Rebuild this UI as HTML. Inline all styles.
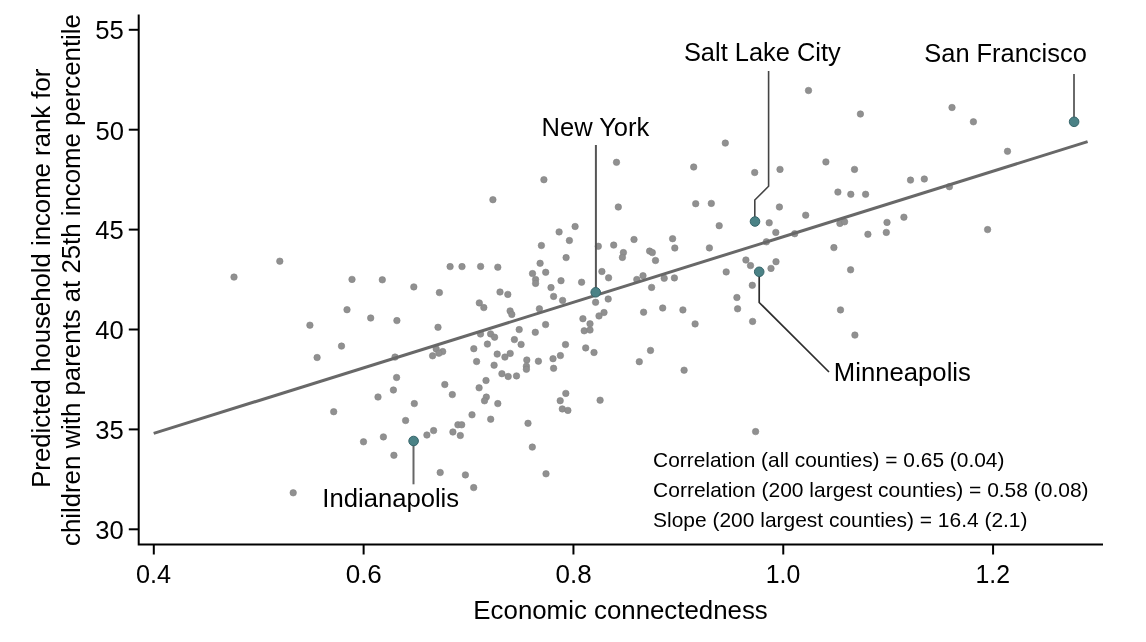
<!DOCTYPE html>
<html><head><meta charset="utf-8"><style>
html,body{margin:0;padding:0;background:#fff;width:1146px;height:642px;overflow:hidden}
svg{display:block;font-family:"Liberation Sans",sans-serif}
</style></head><body>
<svg width="1146" height="642" viewBox="0 0 1146 642">
<rect width="1146" height="642" fill="#fff"/>
<path d="M138.7 14.5 V544.5 H1103" fill="none" stroke="#000" stroke-width="2"/>
<line x1="128.8" y1="529.30" x2="138.7" y2="529.30" stroke="#000" stroke-width="2"/>
<line x1="128.8" y1="429.40" x2="138.7" y2="429.40" stroke="#000" stroke-width="2"/>
<line x1="128.8" y1="329.50" x2="138.7" y2="329.50" stroke="#000" stroke-width="2"/>
<line x1="128.8" y1="229.60" x2="138.7" y2="229.60" stroke="#000" stroke-width="2"/>
<line x1="128.8" y1="129.70" x2="138.7" y2="129.70" stroke="#000" stroke-width="2"/>
<line x1="128.8" y1="29.80" x2="138.7" y2="29.80" stroke="#000" stroke-width="2"/>
<line x1="153.80" y1="544.5" x2="153.80" y2="554.5" stroke="#000" stroke-width="2"/>
<line x1="363.62" y1="544.5" x2="363.62" y2="554.5" stroke="#000" stroke-width="2"/>
<line x1="573.44" y1="544.5" x2="573.44" y2="554.5" stroke="#000" stroke-width="2"/>
<line x1="783.26" y1="544.5" x2="783.26" y2="554.5" stroke="#000" stroke-width="2"/>
<line x1="993.08" y1="544.5" x2="993.08" y2="554.5" stroke="#000" stroke-width="2"/>
<g fill="#909090" stroke="#848484" stroke-width="0.6"><circle cx="543.9" cy="179.7" r="3.25"/><circle cx="492.9" cy="199.7" r="3.25"/><circle cx="808.5" cy="90.5" r="3.25"/><circle cx="725.3" cy="143.1" r="3.25"/><circle cx="616.5" cy="162.3" r="3.25"/><circle cx="693.7" cy="167.0" r="3.25"/><circle cx="754.7" cy="172.5" r="3.25"/><circle cx="780.0" cy="169.4" r="3.25"/><circle cx="618.3" cy="207.0" r="3.25"/><circle cx="695.7" cy="203.7" r="3.25"/><circle cx="711.3" cy="203.4" r="3.25"/><circle cx="779.4" cy="207.0" r="3.25"/><circle cx="805.7" cy="215.2" r="3.25"/><circle cx="860.4" cy="114.0" r="3.25"/><circle cx="952.0" cy="107.5" r="3.25"/><circle cx="973.4" cy="121.8" r="3.25"/><circle cx="1007.5" cy="151.3" r="3.25"/><circle cx="825.9" cy="161.9" r="3.25"/><circle cx="854.5" cy="169.4" r="3.25"/><circle cx="910.5" cy="180.1" r="3.25"/><circle cx="924.3" cy="179.0" r="3.25"/><circle cx="949.4" cy="186.7" r="3.25"/><circle cx="837.9" cy="192.1" r="3.25"/><circle cx="850.8" cy="194.3" r="3.25"/><circle cx="865.6" cy="194.3" r="3.25"/><circle cx="903.9" cy="217.2" r="3.25"/><circle cx="234.0" cy="277.1" r="3.25"/><circle cx="279.8" cy="261.2" r="3.25"/><circle cx="352.0" cy="279.4" r="3.25"/><circle cx="382.3" cy="279.8" r="3.25"/><circle cx="347.0" cy="309.7" r="3.25"/><circle cx="370.7" cy="318.0" r="3.25"/><circle cx="396.9" cy="320.6" r="3.25"/><circle cx="309.9" cy="325.2" r="3.25"/><circle cx="341.5" cy="346.1" r="3.25"/><circle cx="317.1" cy="357.5" r="3.25"/><circle cx="395.0" cy="357.1" r="3.25"/><circle cx="396.6" cy="377.5" r="3.25"/><circle cx="393.4" cy="390.0" r="3.25"/><circle cx="378.0" cy="397.0" r="3.25"/><circle cx="333.7" cy="411.7" r="3.25"/><circle cx="405.6" cy="420.5" r="3.25"/><circle cx="383.4" cy="436.9" r="3.25"/><circle cx="363.5" cy="441.8" r="3.25"/><circle cx="393.9" cy="455.3" r="3.25"/><circle cx="293.2" cy="492.8" r="3.25"/><circle cx="414.3" cy="403.6" r="3.25"/><circle cx="450.1" cy="266.6" r="3.25"/><circle cx="462.0" cy="266.6" r="3.25"/><circle cx="480.6" cy="266.4" r="3.25"/><circle cx="497.8" cy="267.2" r="3.25"/><circle cx="413.8" cy="286.9" r="3.25"/><circle cx="575.1" cy="226.5" r="3.25"/><circle cx="559.1" cy="231.9" r="3.25"/><circle cx="569.4" cy="240.5" r="3.25"/><circle cx="541.4" cy="245.5" r="3.25"/><circle cx="598.3" cy="246.3" r="3.25"/><circle cx="566.1" cy="257.6" r="3.25"/><circle cx="540.1" cy="263.3" r="3.25"/><circle cx="532.5" cy="273.6" r="3.25"/><circle cx="545.7" cy="272.3" r="3.25"/><circle cx="535.6" cy="279.6" r="3.25"/><circle cx="535.6" cy="283.4" r="3.25"/><circle cx="561.0" cy="280.7" r="3.25"/><circle cx="581.6" cy="282.2" r="3.25"/><circle cx="601.9" cy="271.5" r="3.25"/><circle cx="608.6" cy="277.8" r="3.25"/><circle cx="551.0" cy="287.6" r="3.25"/><circle cx="439.4" cy="292.6" r="3.25"/><circle cx="500.0" cy="292.0" r="3.25"/><circle cx="507.8" cy="294.4" r="3.25"/><circle cx="479.3" cy="302.9" r="3.25"/><circle cx="483.8" cy="307.6" r="3.25"/><circle cx="510.1" cy="310.9" r="3.25"/><circle cx="511.8" cy="314.4" r="3.25"/><circle cx="438.0" cy="327.3" r="3.25"/><circle cx="480.5" cy="334.0" r="3.25"/><circle cx="490.6" cy="333.9" r="3.25"/><circle cx="494.6" cy="337.2" r="3.25"/><circle cx="487.4" cy="344.1" r="3.25"/><circle cx="473.8" cy="348.7" r="3.25"/><circle cx="436.2" cy="348.9" r="3.25"/><circle cx="442.7" cy="351.6" r="3.25"/><circle cx="438.9" cy="353.2" r="3.25"/><circle cx="432.6" cy="355.8" r="3.25"/><circle cx="497.2" cy="354.1" r="3.25"/><circle cx="504.9" cy="357.1" r="3.25"/><circle cx="553.6" cy="296.4" r="3.25"/><circle cx="562.6" cy="300.4" r="3.25"/><circle cx="608.2" cy="299.0" r="3.25"/><circle cx="595.6" cy="302.3" r="3.25"/><circle cx="539.4" cy="308.8" r="3.25"/><circle cx="604.0" cy="312.5" r="3.25"/><circle cx="599.0" cy="315.9" r="3.25"/><circle cx="582.9" cy="318.7" r="3.25"/><circle cx="590.0" cy="323.8" r="3.25"/><circle cx="584.2" cy="330.8" r="3.25"/><circle cx="590.0" cy="330.0" r="3.25"/><circle cx="545.6" cy="324.6" r="3.25"/><circle cx="519.2" cy="329.6" r="3.25"/><circle cx="535.3" cy="332.3" r="3.25"/><circle cx="514.4" cy="339.6" r="3.25"/><circle cx="521.1" cy="344.4" r="3.25"/><circle cx="565.5" cy="344.6" r="3.25"/><circle cx="585.7" cy="347.9" r="3.25"/><circle cx="594.0" cy="352.5" r="3.25"/><circle cx="510.2" cy="353.4" r="3.25"/><circle cx="526.8" cy="360.0" r="3.25"/><circle cx="538.4" cy="361.2" r="3.25"/><circle cx="553.0" cy="358.7" r="3.25"/><circle cx="560.4" cy="355.6" r="3.25"/><circle cx="634.0" cy="239.5" r="3.25"/><circle cx="613.7" cy="245.1" r="3.25"/><circle cx="672.6" cy="238.7" r="3.25"/><circle cx="674.8" cy="248.0" r="3.25"/><circle cx="709.4" cy="247.9" r="3.25"/><circle cx="623.4" cy="252.6" r="3.25"/><circle cx="622.4" cy="257.4" r="3.25"/><circle cx="649.6" cy="251.1" r="3.25"/><circle cx="652.3" cy="252.6" r="3.25"/><circle cx="655.5" cy="260.5" r="3.25"/><circle cx="643.0" cy="275.7" r="3.25"/><circle cx="636.8" cy="279.5" r="3.25"/><circle cx="664.2" cy="278.3" r="3.25"/><circle cx="674.4" cy="277.9" r="3.25"/><circle cx="651.6" cy="287.4" r="3.25"/><circle cx="719.2" cy="225.7" r="3.25"/><circle cx="769.2" cy="222.8" r="3.25"/><circle cx="775.8" cy="232.4" r="3.25"/><circle cx="766.4" cy="241.8" r="3.25"/><circle cx="794.7" cy="233.7" r="3.25"/><circle cx="745.9" cy="260.0" r="3.25"/><circle cx="750.5" cy="265.6" r="3.25"/><circle cx="776.0" cy="261.7" r="3.25"/><circle cx="771.0" cy="268.4" r="3.25"/><circle cx="726.2" cy="271.9" r="3.25"/><circle cx="752.3" cy="285.3" r="3.25"/><circle cx="839.9" cy="223.4" r="3.25"/><circle cx="844.6" cy="221.8" r="3.25"/><circle cx="867.9" cy="234.3" r="3.25"/><circle cx="887.0" cy="222.4" r="3.25"/><circle cx="886.3" cy="232.4" r="3.25"/><circle cx="833.9" cy="247.6" r="3.25"/><circle cx="850.6" cy="269.8" r="3.25"/><circle cx="987.6" cy="229.6" r="3.25"/><circle cx="643.6" cy="312.2" r="3.25"/><circle cx="662.7" cy="308.0" r="3.25"/><circle cx="682.9" cy="309.9" r="3.25"/><circle cx="695.1" cy="323.9" r="3.25"/><circle cx="650.5" cy="350.4" r="3.25"/><circle cx="639.3" cy="361.7" r="3.25"/><circle cx="736.9" cy="297.5" r="3.25"/><circle cx="737.6" cy="308.8" r="3.25"/><circle cx="752.6" cy="321.4" r="3.25"/><circle cx="840.5" cy="309.9" r="3.25"/><circle cx="854.9" cy="335.1" r="3.25"/><circle cx="476.6" cy="361.5" r="3.25"/><circle cx="494.1" cy="365.2" r="3.25"/><circle cx="501.9" cy="373.7" r="3.25"/><circle cx="508.2" cy="376.5" r="3.25"/><circle cx="486.0" cy="380.5" r="3.25"/><circle cx="444.8" cy="384.5" r="3.25"/><circle cx="479.1" cy="387.8" r="3.25"/><circle cx="452.3" cy="394.6" r="3.25"/><circle cx="486.3" cy="397.1" r="3.25"/><circle cx="484.5" cy="400.8" r="3.25"/><circle cx="497.8" cy="403.6" r="3.25"/><circle cx="472.0" cy="414.8" r="3.25"/><circle cx="490.7" cy="419.2" r="3.25"/><circle cx="457.9" cy="424.8" r="3.25"/><circle cx="461.7" cy="424.8" r="3.25"/><circle cx="433.6" cy="430.6" r="3.25"/><circle cx="452.9" cy="432.0" r="3.25"/><circle cx="460.3" cy="435.5" r="3.25"/><circle cx="426.9" cy="435.0" r="3.25"/><circle cx="526.4" cy="366.2" r="3.25"/><circle cx="526.4" cy="369.3" r="3.25"/><circle cx="553.6" cy="368.3" r="3.25"/><circle cx="516.5" cy="375.9" r="3.25"/><circle cx="565.8" cy="393.4" r="3.25"/><circle cx="560.2" cy="400.7" r="3.25"/><circle cx="562.3" cy="408.9" r="3.25"/><circle cx="567.9" cy="410.4" r="3.25"/><circle cx="600.1" cy="400.2" r="3.25"/><circle cx="528.0" cy="423.3" r="3.25"/><circle cx="684.1" cy="370.2" r="3.25"/><circle cx="755.6" cy="431.6" r="3.25"/><circle cx="440.2" cy="472.5" r="3.25"/><circle cx="465.4" cy="474.9" r="3.25"/><circle cx="473.7" cy="487.6" r="3.25"/><circle cx="532.3" cy="447.1" r="3.25"/><circle cx="546.0" cy="473.8" r="3.25"/></g>
<line x1="153.7" y1="433.4" x2="1087.6" y2="141.6" stroke="#686868" stroke-width="3.0" />
<path d="M1074 74 V121.8" fill="none" stroke="#6a6a6a" stroke-width="2" stroke-linejoin="miter"/>
<path d="M768.6 71 V186.2 L754.8 200 V221" fill="none" stroke="#444" stroke-width="1.6" stroke-linejoin="miter"/>
<path d="M595.9 145 V292" fill="none" stroke="#555" stroke-width="2" stroke-linejoin="miter"/>
<path d="M759.2 272 V302.5 L829 372" fill="none" stroke="#2e2e2e" stroke-width="1.7" stroke-linejoin="miter"/>
<path d="M413.5 441 V484.3" fill="none" stroke="#666" stroke-width="2" stroke-linejoin="miter"/>
<g fill="#4b8286" stroke="#36656a" stroke-width="1.0"><circle cx="1074.1" cy="121.8" r="4.8"/><circle cx="755.0" cy="221.5" r="4.8"/><circle cx="595.7" cy="292.3" r="4.8"/><circle cx="759.2" cy="271.8" r="4.8"/><circle cx="413.6" cy="441.0" r="4.8"/></g>
<g style="filter:grayscale(1)">
<text x="95.29" y="39.30" font-size="25.4" textLength="28.58" lengthAdjust="spacingAndGlyphs" fill="#000">55</text>
<text x="95.49" y="139.50" font-size="25.4" textLength="28.47" lengthAdjust="spacingAndGlyphs" fill="#000">50</text>
<text x="95.39" y="239.40" font-size="25.4" textLength="28.47" lengthAdjust="spacingAndGlyphs" fill="#000">45</text>
<text x="95.39" y="339.30" font-size="25.4" textLength="28.47" lengthAdjust="spacingAndGlyphs" fill="#000">40</text>
<text x="95.39" y="439.20" font-size="25.4" textLength="28.47" lengthAdjust="spacingAndGlyphs" fill="#000">35</text>
<text x="95.39" y="539.10" font-size="25.4" textLength="28.47" lengthAdjust="spacingAndGlyphs" fill="#000">30</text>
<text x="135.91" y="582.80" font-size="25.4" textLength="35.09" lengthAdjust="spacingAndGlyphs" fill="#000">0.4</text>
<text x="345.68" y="582.80" font-size="25.4" textLength="36.15" lengthAdjust="spacingAndGlyphs" fill="#000">0.6</text>
<text x="555.48" y="582.80" font-size="25.4" textLength="36.15" lengthAdjust="spacingAndGlyphs" fill="#000">0.8</text>
<text x="765.69" y="582.80" font-size="25.4" textLength="34.52" lengthAdjust="spacingAndGlyphs" fill="#000">1.0</text>
<text x="975.49" y="582.80" font-size="25.4" textLength="34.52" lengthAdjust="spacingAndGlyphs" fill="#000">1.2</text>
<text x="473.37" y="618.60" font-size="25.5" textLength="294.43" lengthAdjust="spacingAndGlyphs" fill="#000">Economic connectedness</text>
<text x="683.90" y="61.40" font-size="25.5" textLength="156.82" lengthAdjust="spacingAndGlyphs" fill="#000">Salt Lake City</text>
<text x="924.30" y="62.00" font-size="25.5" textLength="162.49" lengthAdjust="spacingAndGlyphs" fill="#000">San Francisco</text>
<text x="541.50" y="136.10" font-size="25.5" textLength="107.84" lengthAdjust="spacingAndGlyphs" fill="#000">New York</text>
<text x="833.89" y="380.80" font-size="25.5" textLength="137.01" lengthAdjust="spacingAndGlyphs" fill="#000">Minneapolis</text>
<text x="322.39" y="506.60" font-size="25.5" textLength="136.72" lengthAdjust="spacingAndGlyphs" fill="#000">Indianapolis</text>
<text x="653.11" y="467.40" font-size="21" textLength="351.28" lengthAdjust="spacingAndGlyphs" fill="#000">Correlation (all counties) = 0.65 (0.04)</text>
<text x="653.10" y="496.90" font-size="21" textLength="435.50" lengthAdjust="spacingAndGlyphs" fill="#000">Correlation (200 largest counties) = 0.58 (0.08)</text>
<text x="653.10" y="526.60" font-size="21" textLength="374.41" lengthAdjust="spacingAndGlyphs" fill="#000">Slope (200 largest counties) = 16.4 (2.1)</text>
<text x="49.60" y="487.82" font-size="25.5" textLength="419.15" lengthAdjust="spacingAndGlyphs" transform="rotate(-90 49.60 487.82)" fill="#000">Predicted household income rank for</text>
<text x="80.50" y="546.01" font-size="25.5" textLength="531.91" lengthAdjust="spacingAndGlyphs" transform="rotate(-90 80.50 546.01)" fill="#000">children with parents at 25th income percentile</text>
</g>
</svg>
</body></html>
